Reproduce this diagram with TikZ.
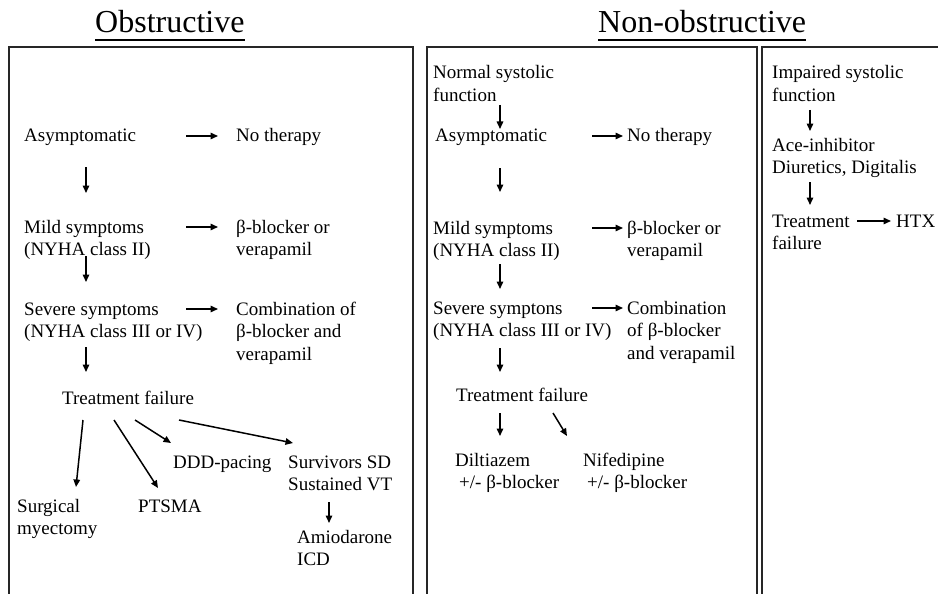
\documentclass[tikz,border=0pt]{standalone}
\usepackage{fontspec}
\setmainfont{Liberation Serif}
\usetikzlibrary{arrows.meta,calc}
\newcommand{\mlines}[1]{\begin{tabular}[t]{@{}l@{}}#1\end{tabular}}
\begin{document}
\begin{tikzpicture}[x=1pt,y=-1pt,
  txt/.style={anchor=base west, inner sep=0pt, font=\fontsize{19}{22.5}\selectfont},
  ttl/.style={anchor=base west, inner sep=0pt, font=\fontsize{32}{36}\selectfont},
  arr/.style={-{Triangle[length=7.5pt,width=6.5pt]}, line width=1.5pt},
  frame/.style={line width=1.5pt, draw=black!85},
  uline/.style={line width=1.3pt}]
\useasboundingbox (0,0) rectangle (938,594);

% titles
\node[ttl] (t1) at (95,33) {Obstructive};
\node[ttl] (t2) at (598,33) {Non-obstructive};
\draw[uline] ($(t1.base west)+(0,7)$) -- ($(t1.base east)+(0,7)$);
\draw[uline] ($(t2.base west)+(0,7)$) -- ($(t2.base east)+(0,7)$);

% frames
\draw[frame] (9,600) -- (9,47) -- (413,47) -- (413,600);
\draw[frame] (427,600) -- (427,47) -- (757,47) -- (757,600);
\draw[frame] (762,600) -- (762,47) -- (945,47);

% ---------- Obstructive ----------
\node[txt] (oasym) at (24,142) {Asymptomatic};
\node[txt] (onoth) at (236,142) {No therapy};
\node[txt] (omild) at (24,233) {\mlines{Mild symptoms\\(NYHA class II)}};
\node[txt] (obeta) at (236,233) {\mlines{β-blocker or\\verapamil}};
\node[txt] (osev) at (24,315) {\mlines{Severe symptoms\\(NYHA class III or IV)}};
\node[txt] (ocomb) at (236,315) {\mlines{Combination of\\β-blocker and\\verapamil}};
\node[txt] (otf) at (62,404) {Treatment failure};
\node[txt] (oddd) at (173,468) {DDD-pacing};
\node[txt] (osurv) at (288,468) {\mlines{Survivors SD\\Sustained VT}};
\node[txt] (osurg) at (17,512) {\mlines{Surgical\\myectomy}};
\node[txt] (optsma) at (138,512) {PTSMA};
\node[txt] (oamio) at (297,543) {\mlines{Amiodarone\\ICD}};

\coordinate (oh1a) at (186,136); \coordinate (oh1b) at (218,136);
\coordinate (oh2a) at (186,227); \coordinate (oh2b) at (218,227);
\coordinate (oh3a) at (186,309); \coordinate (oh3b) at (218,309);
\coordinate (ov1a) at (86,167); \coordinate (ov1b) at (86,193);
\coordinate (ov2a) at (86,256); \coordinate (ov2b) at (86,282);
\coordinate (ov3a) at (86,347); \coordinate (ov3b) at (86,372);
\coordinate (od1a) at (83,420); \coordinate (od1b) at (76,487);
\coordinate (od2a) at (114,420); \coordinate (od2b) at (158,488);
\coordinate (od3a) at (135,420); \coordinate (od3b) at (171,443);
\coordinate (od4a) at (179,420); \coordinate (od4b) at (293,443);
\coordinate (ov4a) at (329,502); \coordinate (ov4b) at (329,523);
\foreach \a in {oh1,oh2,oh3,ov1,ov2,ov3,od1,od2,od3,od4,ov4}
  \draw[arr] (\a a) -- (\a b);

% ---------- Non-obstructive, normal ----------
\node[txt] (nnorm) at (433,79) {\mlines{Normal systolic\\function}};
\node[txt] (nasym) at (435,142) {Asymptomatic};
\node[txt] (nnoth) at (627,142) {No therapy};
\node[txt] (nmild) at (433,234) {\mlines{Mild symptoms\\(NYHA class II)}};
\node[txt] (nbeta) at (627,234) {\mlines{β-blocker or\\verapamil}};
\node[txt] (nsev) at (433,314) {\mlines{Severe symptons\\(NYHA class III or IV)}};
\node[txt] (ncomb) at (627,314) {\mlines{Combination\\of β-blocker\\and verapamil}};
\node[txt] (ntf) at (456,401) {Treatment failure};
\node[txt] (ndil) at (455,466) {\mlines{Diltiazem\\\hspace*{4pt}+/- β-blocker}};
\node[txt] (nnif) at (583,466) {\mlines{Nifedipine\\\hspace*{4pt}+/- β-blocker}};

\coordinate (nh1a) at (592,136); \coordinate (nh1b) at (623,136);
\coordinate (nh2a) at (592,228); \coordinate (nh2b) at (623,228);
\coordinate (nh3a) at (592,308); \coordinate (nh3b) at (623,308);
\coordinate (nv0a) at (500,105); \coordinate (nv0b) at (500,129);
\coordinate (nv1a) at (500,168); \coordinate (nv1b) at (500,192);
\coordinate (nv2a) at (500,264); \coordinate (nv2b) at (500,289);
\coordinate (nv3a) at (500,348); \coordinate (nv3b) at (500,372);
\coordinate (nv4a) at (500,413); \coordinate (nv4b) at (500,436);
\coordinate (nd1a) at (553,413); \coordinate (nd1b) at (567,436);
\foreach \a in {nh1,nh2,nh3,nv0,nv1,nv2,nv3,nv4,nd1}
  \draw[arr] (\a a) -- (\a b);

% ---------- Non-obstructive, impaired ----------
\node[txt] (iimp) at (772,79) {\mlines{Impaired systolic\\function}};
\node[txt] (iace) at (772,151) {\mlines{Ace-inhibitor\\Diuretics, Digitalis}};
\node[txt] (itf) at (772,227) {\mlines{Treatment\\failure}};
\node[txt] (ihtx) at (896,227) {HTX};
\coordinate (iv1a) at (810,110); \coordinate (iv1b) at (810,131);
\coordinate (iv2a) at (810,182); \coordinate (iv2b) at (810,205);
\coordinate (ih1a) at (857,221); \coordinate (ih1b) at (891,221);
\foreach \a in {iv1,iv2,ih1}
  \draw[arr] (\a a) -- (\a b);
\end{tikzpicture}
\end{document}
